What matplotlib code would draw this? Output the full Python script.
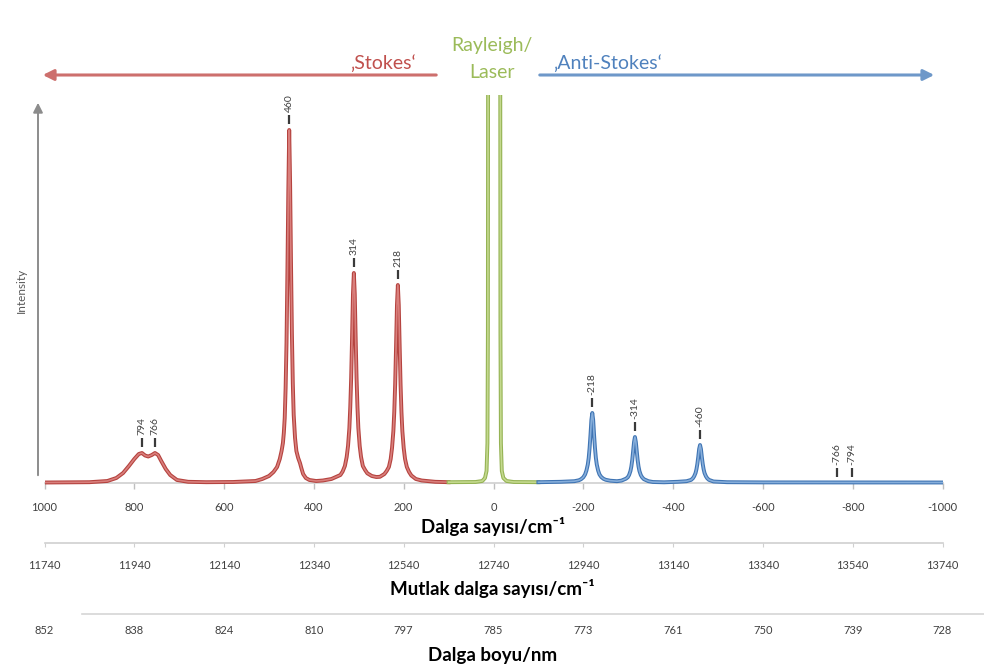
import matplotlib.pyplot as plt
import numpy as np

plt.rcParams['font.family'] = ['Lato', 'DejaVu Sans']

W, H = 984, 671

# raman shift axis and the two other scales under it
shift_ticks = [1000, 800, 600, 400, 200, 0, -200, -400, -600, -800, -1000]
shift_labels = ['1000', '800', '600', '400', '200', '0', '-200', '-400', '-600', '-800', '-1000']
abs_labels = ['11740', '11940', '12140', '12340', '12540', '12740',
              '12940', '13140', '13340', '13540', '13740']
nm_labels = ['852', '838', '824', '810', '797', '785', '773', '761', '750', '739', '728']

# spectrum (shift in cm-1, intensity in arbitrary units)
stokes_x = [1000, 900, 860, 840, 825, 812, 800, 790, 783, 776, 769, 761, 754, 747, 740, 730, 720,
            705, 680, 640, 580, 530, 515, 500, 490, 482, 476, 472, 469, 467, 465, 463, 461, 459,
            457, 455, 453, 451, 449, 447, 445, 442, 439, 435, 431, 428, 424, 418, 410, 395, 380,
            361, 351, 341, 336, 331, 327, 324, 321, 319, 317, 315, 313, 311, 309, 307, 305, 303,
            301, 298, 295, 291, 286, 281, 271, 261, 253, 243, 238, 233, 229, 226, 223, 221, 219,
            217, 215, 213, 211, 209, 207, 205, 203, 200, 197, 193, 188, 183, 173, 160, 130, 100]
stokes_y = [0.5, 0.8, 2, 5, 10, 17, 24, 29, 30, 27.5, 26.5, 28, 30, 28, 22, 14, 8,
            3, 1.2, 0.8, 1, 2, 4, 7, 11, 16, 24, 32, 40, 50, 65, 95, 140, 210,
            290, 353, 300, 220, 150, 100, 68, 45, 32, 25, 20, 15, 9, 5, 3, 2, 2.5,
            4, 6, 8, 11.5, 17, 26, 37, 55, 76, 105, 145, 189, 210, 189, 145, 105, 76,
            55, 37, 26, 17, 13, 9.7, 7, 6, 6.2, 9, 12, 16, 24, 35, 52, 71, 99,
            137, 178, 198, 178, 137, 99, 71, 52, 35, 24, 16, 11, 7.5, 4, 2.5, 1.2, 0.8]

laser_x = [100, 40, 25, 19, 15.5, 13.5, 12.5, 12, -15, -15.5, -16.5, -18.5, -22, -29, -45, -100]
laser_y = [0.8, 1, 2, 5, 12, 40, 150, 450, 450, 150, 40, 12, 5, 2, 1, 0.8]

anti_x = [-100, -150, -180, -190, -195, -200, -204, -207, -210, -212, -214, -216, -218, -220,
          -222, -224, -226, -228, -230, -233, -236, -240, -245, -250, -260, -275, -285, -295,
          -299, -302, -305, -307, -309, -311, -313, -315, -317, -319, -321, -323, -325, -328,
          -331, -335, -345, -355, -380, -410, -430, -440, -444, -447, -450, -452, -454, -456,
          -458, -460, -462, -464, -466, -468, -470, -473, -476, -480, -490, -520, -600, -1000]
anti_y = [0.8, 1.2, 1.8, 2.7, 3.8, 5.7, 8.6, 12.5, 18.5, 25, 35, 48, 63, 70,
          63, 48, 35, 25, 18.5, 12.5, 8.6, 6, 4.2, 3.2, 2.3, 1.8, 2.4, 4.3,
          5.7, 8, 12, 16.5, 23, 32, 41, 46, 41, 32, 23, 16.5, 12, 8,
          5.7, 3.8, 1.8, 1.0, 0.7, 1.2, 1.8, 3.1, 4.7, 6.8, 10, 13.7, 19, 26,
          34, 38, 34, 26, 19, 13.7, 10, 6.8, 4.7, 3.1, 1.5, 0.8, 0.6, 0.5]

# peak labels
peak_pos = [783, 754, 455, 311, 213, -220, -315, -460, -764, -799]
peak_top = [30, 30, 353, 210, 198, 70, 46, 38, 0, 0]
peak_text = ['794', '766', '460', '314', '218', '-218', '-314', '-460', '-766', '-794']


def px(x, y):
    return x / W, 1 - y / H


fig = plt.figure(figsize=(W / 100, H / 100), dpi=100)
ax = fig.add_axes([44.5 / W, 1 - 489 / H, 898 / W, 394 / H])
ax.set_xlim(1000, -1000)
ax.set_ylim(-6, 388)
for s in ['top', 'right', 'left']:
    ax.spines[s].set_visible(False)
ax.set_yticks([])
ax.spines['bottom'].set_position(('data', 0))
ax.spines['bottom'].set_color('#d0d0d0')
ax.spines['bottom'].set_linewidth(1.2)
ax.set_xticks(shift_ticks, shift_labels)
ax.tick_params(axis='x', direction='out', length=4, width=1, color='#bfbfbf',
               labelsize=8, labelcolor='#404040', pad=10)


def draw_curve(x, y, dark, light):
    ax.plot(x, y, color=dark, lw=2.8, solid_joinstyle='round', zorder=3)
    ax.plot(x, y, color=light, lw=1.2, solid_joinstyle='round', zorder=3)


draw_curve(stokes_x, stokes_y, '#b5433f', '#d97f7c')
draw_curve(laser_x, laser_y, '#95b354', '#c4d98e')
draw_curve(anti_x, anti_y, '#3f74b3', '#86aedb')

top = np.array(peak_top)
ax.vlines(peak_pos, top + 6, top + 15, color='#3a3a3a', lw=1.6, zorder=4)
for p, t, s in zip(peak_pos, peak_top, peak_text):
    ax.text(p, t + 18, s, rotation=90, ha='center', va='bottom', fontsize=7.5,
            color='#404040')

# absolute wavenumber axis
sec1 = ax.secondary_xaxis(-0.137)
sec1.set_xticks(shift_ticks, abs_labels)
sec1.spines['bottom'].set_color('#d0d0d0')
sec1.spines['bottom'].set_linewidth(1.2)
sec1.tick_params(direction='out', length=3, color='#d0d0d0', labelsize=8,
                 labelcolor='#404040', pad=9)

# wavelength axis
sec2 = ax.secondary_xaxis(-0.317)
sec2.set_xticks(shift_ticks, nm_labels)
sec2.spines['bottom'].set_color('#d6d6d6')
sec2.spines['bottom'].set_linewidth(1.2)
sec2.spines['bottom'].set_bounds(916, -1095)
sec2.tick_params(direction='out', length=0, labelsize=8, labelcolor='#404040', pad=8.3)

fig.text(*px(493, 527), 'Dalga sayısı/cm⁻¹', ha='center', va='center',
         fontsize=13.5, fontweight='bold', color='black')
fig.text(*px(492, 588), 'Mutlak dalga sayısı/cm⁻¹', ha='center', va='center',
         fontsize=13.5, fontweight='bold', color='black')
fig.text(*px(493, 656), 'Dalga boyu/nm', ha='center', va='center',
         fontsize=13.5, fontweight='bold', color='black')

# intensity arrow
ax.annotate('', xy=px(38, 100), xytext=px(38, 478), xycoords='figure fraction',
            textcoords='figure fraction',
            arrowprops=dict(arrowstyle='-|>', color='#8c8c8c', lw=1.4, mutation_scale=14))
fig.text(*px(21, 290), 'Intensity', rotation=90, ha='center', va='center',
         fontsize=8.5, color='#595959')

# stokes / anti-stokes arrows
ax.annotate('', xy=px(40, 75), xytext=px(439, 75), xycoords='figure fraction',
            textcoords='figure fraction',
            arrowprops=dict(arrowstyle='-|>', color='#cd6f6d', lw=2.2, mutation_scale=16))
ax.annotate('', xy=px(937, 75), xytext=px(537, 75), xycoords='figure fraction',
            textcoords='figure fraction',
            arrowprops=dict(arrowstyle='-|>', color='#6e98c9', lw=2.2, mutation_scale=16))
fig.text(*px(416, 63), '‚Stokes‘', ha='right', va='center', fontsize=14, color='#c0504d')
fig.text(*px(553, 63), '‚Anti-Stokes‘', ha='left', va='center', fontsize=14, color='#4f81bd')
fig.text(*px(492, 46), 'Rayleigh/', ha='center', va='center', fontsize=14, color='#9bbb59')
fig.text(*px(492, 72), 'Laser', ha='center', va='center', fontsize=14, color='#9bbb59')

fig.savefig('out.png', dpi=100)
